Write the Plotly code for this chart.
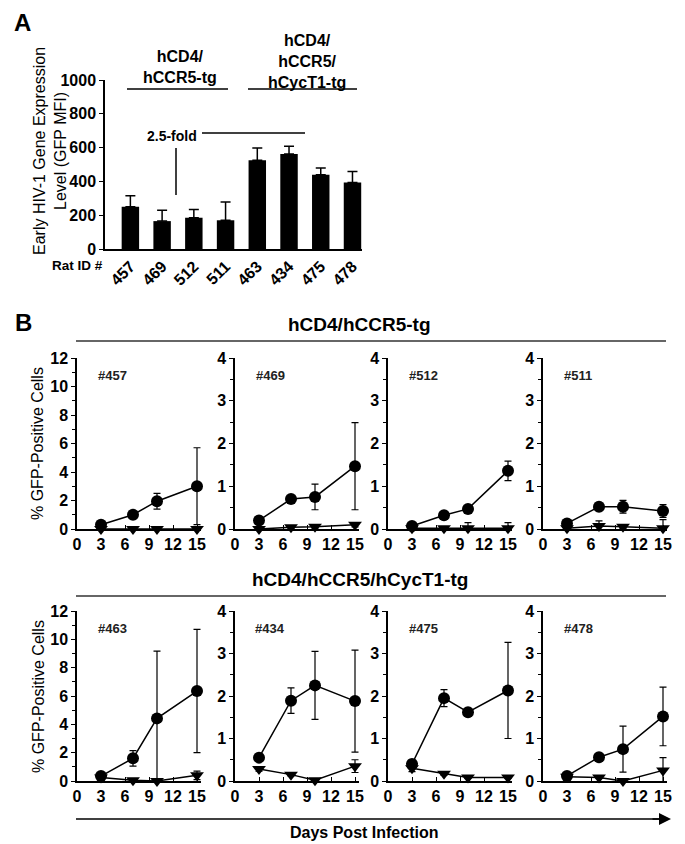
import plotly.graph_objects as go

# the page adds an 8px body margin, so every reference pixel position is
# shifted by 8 and the figure is made smaller to fit the window
W, H = 685, 844
OFF = 8
FW, FH = W - OFF, H - OFF
FONT = "Liberation Sans, Arial"

# ---- panel A data ----
rat_ids = ["457", "469", "512", "511", "463", "434", "475", "478"]
mfi = [250, 165, 185, 170, 525, 562, 440, 393]
mfi_err = [65, 65, 48, 108, 73, 46, 40, 65]

# ---- panel B data ----
days = [3, 7, 10, 15]
day_ticks = [0, 3, 6, 9, 12, 15]

circ_457 = [0.3, 1.0, 1.95, 3.0]
circ_457_err = [0.1, 0.1, 0.55, 2.7]
tri_457 = [0.0, 0.0, 0.0, 0.0]
tri_457_err = [0.0, 0.0, 0.0, 0.0]

circ_469 = [0.2, 0.7, 0.75, 1.47]
circ_469_err = [0.03, 0.04, 0.3, 1.02]
tri_469 = [0.0, 0.04, 0.05, 0.1]
tri_469_err = [0.02, 0.02, 0.03, 0.05]

circ_512 = [0.07, 0.32, 0.47, 1.36]
circ_512_err = [0.03, 0.03, 0.04, 0.23]
tri_512 = [0.02, 0.02, 0.02, 0.02]
tri_512_err = [0.0, 0.02, 0.13, 0.13]

circ_511 = [0.13, 0.52, 0.52, 0.42]
circ_511_err = [0.05, 0.06, 0.15, 0.15]
tri_511 = [0.02, 0.07, 0.05, 0.02]
tri_511_err = [0.02, 0.12, 0.04, 0.2]

circ_463 = [0.35, 1.6, 4.42, 6.35]
circ_463_err = [0.1, 0.55, 4.75, 4.35]
tri_463 = [0.25, 0.05, 0.0, 0.4]
tri_463_err = [0.05, 0.03, 0.03, 0.3]

circ_434 = [0.55, 1.89, 2.25, 1.88]
circ_434_err = [0.05, 0.3, 0.8, 1.2]
tri_434 = [0.28, 0.15, 0.02, 0.35]
tri_434_err = [0.05, 0.03, 0.02, 0.15]

circ_475 = [0.4, 1.95, 1.62, 2.13]
circ_475_err = [0.1, 0.2, 0.04, 1.13]
tri_475 = [0.3, 0.17, 0.08, 0.08]
tri_475_err = [0.08, 0.03, 0.02, 0.02]

circ_478 = [0.12, 0.56, 0.75, 1.52]
circ_478_err = [0.03, 0.04, 0.54, 0.69]
tri_478 = [0.1, 0.08, 0.0, 0.25]
tri_478_err = [0.02, 0.02, 0.02, 0.3]

panels = [
    ("#457", circ_457, circ_457_err, tri_457, tri_457_err, 12),
    ("#469", circ_469, circ_469_err, tri_469, tri_469_err, 4),
    ("#512", circ_512, circ_512_err, tri_512, tri_512_err, 4),
    ("#511", circ_511, circ_511_err, tri_511, tri_511_err, 4),
    ("#463", circ_463, circ_463_err, tri_463, tri_463_err, 12),
    ("#434", circ_434, circ_434_err, tri_434, tri_434_err, 4),
    ("#475", circ_475, circ_475_err, tri_475, tri_475_err, 4),
    ("#478", circ_478, circ_478_err, tri_478, tri_478_err, 4),
]


def px_x(x):
    return (x - OFF) / FW


def px_y(y):
    return 1 - (y - OFF) / FH


tick_font = dict(family=FONT, size=16, color="black", weight="bold")
fig = go.Figure()
layout = dict(width=FW, height=FH, margin=dict(l=0, r=0, t=0, b=0, pad=0),
              plot_bgcolor="white", paper_bgcolor="white", showlegend=False,
              font=dict(family=FONT, color="black"))

# panel A bars
fig.add_trace(go.Bar(x=list(range(len(rat_ids))), y=mfi, width=0.55,
                     marker=dict(color="black", line=dict(width=0)),
                     error_y=dict(type="data", array=mfi_err, symmetric=False,
                                  arrayminus=[0] * len(mfi), color="black",
                                  thickness=1.5, width=5),
                     xaxis="x", yaxis="y"))
layout["xaxis"] = dict(domain=[px_x(105), px_x(362)], range=[-0.8, 7.3],
                       tickvals=list(range(len(rat_ids))), ticktext=rat_ids,
                       tickangle=-45, tickfont=tick_font, showline=True,
                       linecolor="black", linewidth=1.5, ticks="",
                       showgrid=False, zeroline=False, anchor="y",
                       automargin=False)
layout["yaxis"] = dict(domain=[px_y(249), px_y(80)], range=[0, 1000],
                       dtick=200, tickfont=tick_font, showline=True,
                       linecolor="black", linewidth=1.5, ticks="outside",
                       ticklen=4, tickcolor="black", showgrid=False,
                       zeroline=False, anchor="x", automargin=False)

# panel B subplots
lefts = [77, 235, 388, 543]
rows = [(358, 529), (611, 781)]
for i, (name, circ, circ_err, tri, tri_err, ymax) in enumerate(panels):
    k = i + 2
    r, c = divmod(i, 4)
    top, bottom = rows[r]
    left = lefts[c]
    xa, ya = "x%d" % k, "y%d" % k
    fig.add_trace(go.Scatter(x=days, y=tri, mode="lines+markers",
                             line=dict(color="black", width=1.5),
                             marker=dict(symbol="triangle-down", size=12, color="black"),
                             error_y=dict(type="data", array=tri_err, color="black",
                                          thickness=1.2, width=3.5),
                             cliponaxis=False, xaxis=xa, yaxis=ya))
    fig.add_trace(go.Scatter(x=days, y=circ, mode="lines+markers",
                             line=dict(color="black", width=1.5),
                             marker=dict(symbol="circle", size=12, color="black"),
                             error_y=dict(type="data", array=circ_err, color="black",
                                          thickness=1.2, width=3.5),
                             cliponaxis=False, xaxis=xa, yaxis=ya))
    layout["xaxis%d" % k] = dict(domain=[px_x(left), px_x(left + 124)],
                                 range=[0, 15.5], tickvals=day_ticks,
                                 tickfont=tick_font, showline=True,
                                 linecolor="black", linewidth=1.5,
                                 ticks="inside", ticklen=4, tickcolor="black",
                                 showgrid=False, zeroline=False, anchor=ya,
                                 automargin=False)
    layout["yaxis%d" % k] = dict(domain=[px_y(bottom), px_y(top)],
                                 range=[0, ymax], dtick=2 if ymax == 12 else 1,
                                 tickfont=tick_font, showline=True,
                                 linecolor="black", linewidth=1.5,
                                 ticks="outside", ticklen=4, tickcolor="black",
                                 minor=dict(dtick=1 if ymax == 12 else 0.5,
                                            ticks="outside", ticklen=3,
                                            tickcolor="black"),
                                 showgrid=False, zeroline=False, anchor=xa,
                                 automargin=False)
    fig.add_annotation(x=px_x(left + 35), y=px_y(top + 17), xref="paper",
                       yref="paper", xanchor="center", yanchor="middle",
                       text=name, showarrow=False,
                       font=dict(size=13, weight="bold", color="#222"))

shapes = []


def hline(x0, x1, y, w=1.5, color="black"):
    shapes.append(dict(type="line", xref="paper", yref="paper",
                       x0=px_x(x0), x1=px_x(x1), y0=px_y(y), y1=px_y(y),
                       line=dict(color=color, width=w)))


# panel A group lines
hline(127, 228, 89)
hline(248, 357, 89)
hline(202, 305, 133)
shapes.append(dict(type="line", xref="paper", yref="paper",
                   x0=px_x(176), x1=px_x(176), y0=px_y(148), y1=px_y(195),
                   line=dict(color="black", width=1.5)))
# panel B group lines
hline(76, 666, 341, 1.5, "#333")
hline(76, 666, 596, 1.5, "#333")
hline(76, 662, 819, 1.5)
layout["shapes"] = shapes


def note(x, y, text, size, bold=True, angle=0):
    fig.add_annotation(x=px_x(x), y=px_y(y), xref="paper", yref="paper",
                       xanchor="center", yanchor="middle",
                       text=text, showarrow=False, textangle=angle,
                       font=dict(size=size, color="black",
                                 weight="bold" if bold else "normal"))


note(22, 23, "A", 24)
note(23, 322, "B", 24)
note(180, 67, "hCD4/<br>hCCR5-tg", 16)
note(307, 61, "hCD4/<br>hCCR5/<br>hCycT1-tg", 16)
note(172, 136, "2.5-fold", 14)
note(77, 265, "Rat ID #", 13.5)
note(50, 151, "Early HIV-1 Gene Expression<br>Level (GFP MFI)", 16, False, -90)
note(38, 444, "% GFP-Positive Cells", 16, False, -90)
note(38, 697, "% GFP-Positive Cells", 16, False, -90)
note(360, 324, "hCD4/hCCR5-tg", 19)
note(360, 579, "hCD4/hCCR5/hCycT1-tg", 19)
note(364, 832, "Days Post Infection", 16)

# arrow at the bottom
fig.add_annotation(x=px_x(671), y=px_y(819), xref="paper", yref="paper",
                   ax=-20, ay=0, text="", showarrow=True, arrowhead=2,
                   arrowsize=1.6, arrowwidth=1.5, arrowcolor="black")

fig.update_layout(**layout)
fig.write_html("out.html")
